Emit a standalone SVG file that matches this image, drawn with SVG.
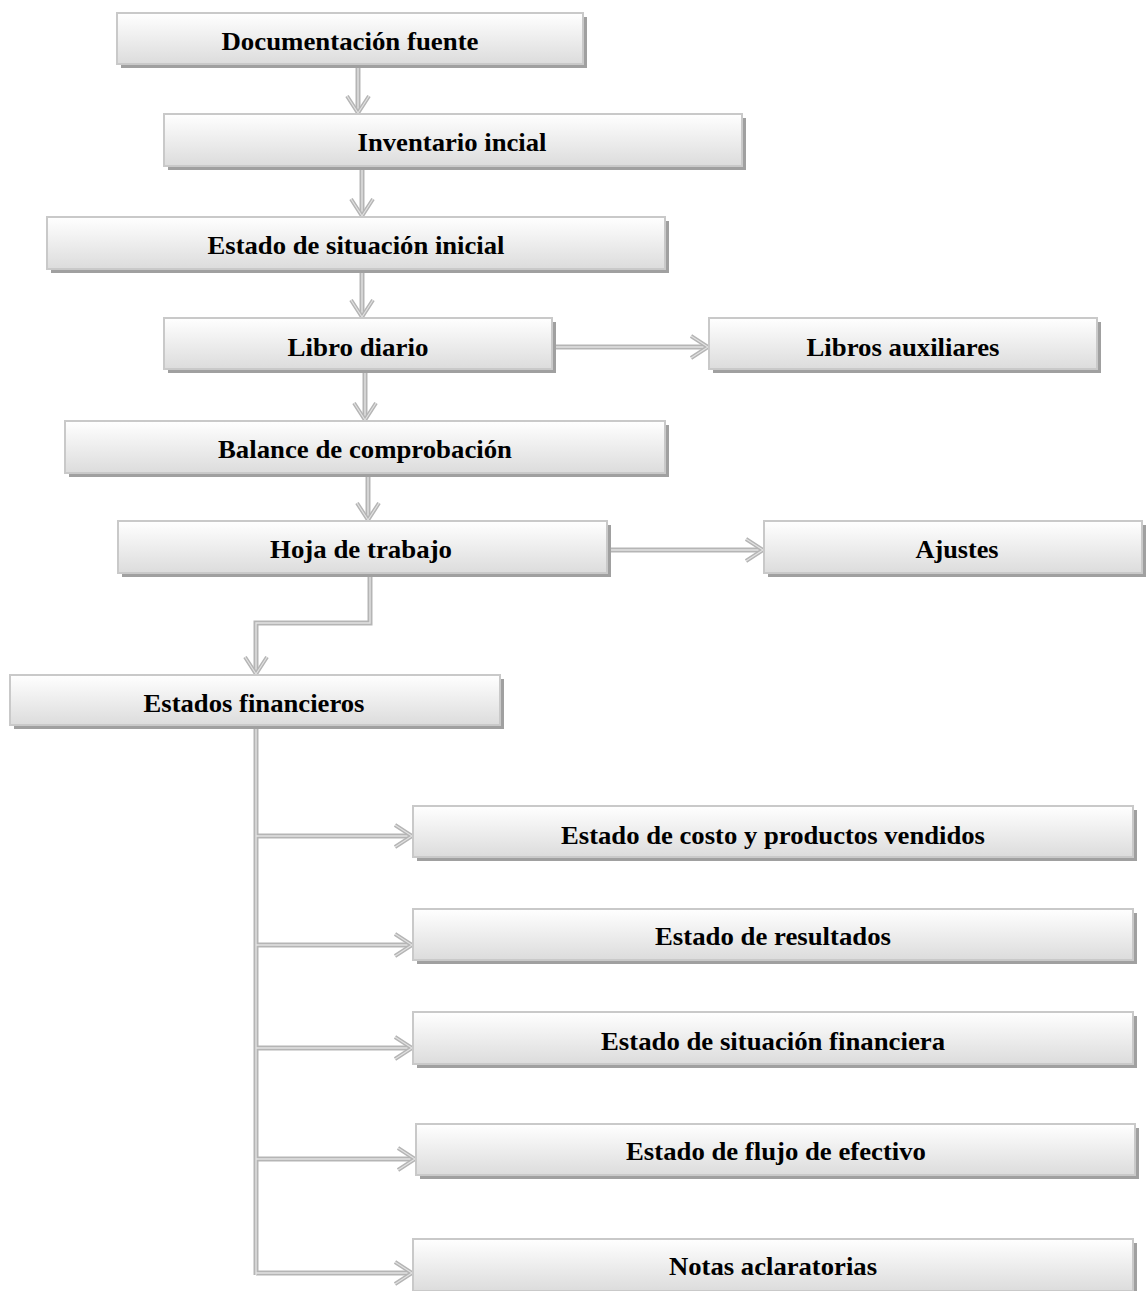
<svg xmlns="http://www.w3.org/2000/svg" width="1146" height="1291" viewBox="0 0 1146 1291">
<defs>
<linearGradient id="g" x1="0" y1="0" x2="0" y2="1">
<stop offset="0" stop-color="#ffffff"/>
<stop offset="1" stop-color="#dcdcdc"/>
</linearGradient>
</defs>
<style>
.sh{fill:#a0a0a0}
.bx{fill:url(#g);stroke:#c9c9c9;stroke-width:2}
.t{font-family:"Liberation Serif","Times New Roman",serif;font-weight:bold;font-size:25px;fill:#000;text-anchor:middle}
.lo{fill:none;stroke:#b5b5b5;stroke-width:5}
.li{fill:none;stroke:#e2e2e2;stroke-width:1.4}
.ah{fill:none;stroke:#b5b5b5;stroke-width:4;stroke-linejoin:miter}
.ai{fill:none;stroke:#e2e2e2;stroke-width:1.1;stroke-linejoin:miter}
</style>
<rect width="1146" height="1291" fill="#fff"/>
<g id="connectors">
<path class="lo" d="M358 64V112M362 166V215M362 269V316M365 369V419M368 473V519M370 573V623H256V673M256 725V1275M552 347H707M607 550H762M256 836H411M256 945H411M256 1048H411M256 1159H414M256 1273H411"/>
<path class="li" d="M358 64V112M362 166V215M362 269V316M365 369V419M368 473V519M370 573V623H256V673M256 725V1275M552 347H707M607 550H762M256 836H411M256 945H411M256 1048H411M256 1159H414M256 1273H411"/>
<path class="ah" d="M347 96L358 113L369 96M351 199L362 216L373 199M351 300L362 317L373 300M354 403L365 420L376 403M357 503L368 520L379 503M245 657L256 674L267 657M691 336L708 347L691 358M746 539L763 550L746 561M395 825L412 836L395 847M395 934L412 945L395 956M395 1037L412 1048L395 1059M398 1148L415 1159L398 1170M395 1262L412 1273L395 1284"/>
<path class="ai" d="M347 96L358 113L369 96M351 199L362 216L373 199M351 300L362 317L373 300M354 403L365 420L376 403M357 503L368 520L379 503M245 657L256 674L267 657M691 336L708 347L691 358M746 539L763 550L746 561M395 825L412 836L395 847M395 934L412 945L395 956M395 1037L412 1048L395 1059M398 1148L415 1159L398 1170M395 1262L412 1273L395 1284"/>
</g>
<g id="n1"><rect class="sh" x="121" y="17" width="466" height="51"/><rect class="bx" x="117" y="13" width="466" height="51"/><text class="t" x="350" y="50" textLength="257" lengthAdjust="spacingAndGlyphs">Documentación fuente</text></g>
<g id="n2"><rect class="sh" x="168" y="118" width="578" height="52"/><rect class="bx" x="164" y="114" width="578" height="52"/><text class="t" x="452" y="151" textLength="189" lengthAdjust="spacingAndGlyphs">Inventario incial</text></g>
<g id="n3"><rect class="sh" x="51" y="221" width="618" height="52"/><rect class="bx" x="47" y="217" width="618" height="52"/><text class="t" x="356" y="254" textLength="297" lengthAdjust="spacingAndGlyphs">Estado de situación inicial</text></g>
<g id="n4"><rect class="sh" x="168" y="322" width="388" height="51"/><rect class="bx" x="164" y="318" width="388" height="51"/><text class="t" x="358" y="356" textLength="141" lengthAdjust="spacingAndGlyphs">Libro diario</text></g>
<g id="n5"><rect class="sh" x="713" y="322" width="388" height="51"/><rect class="bx" x="709" y="318" width="388" height="51"/><text class="t" x="903" y="356" textLength="193" lengthAdjust="spacingAndGlyphs">Libros auxiliares</text></g>
<g id="n6"><rect class="sh" x="69" y="425" width="600" height="52"/><rect class="bx" x="65" y="421" width="600" height="52"/><text class="t" x="365" y="458" textLength="294" lengthAdjust="spacingAndGlyphs">Balance de comprobación</text></g>
<g id="n7"><rect class="sh" x="122" y="525" width="489" height="52"/><rect class="bx" x="118" y="521" width="489" height="52"/><text class="t" x="361" y="558" textLength="182" lengthAdjust="spacingAndGlyphs">Hoja de trabajo</text></g>
<g id="n8"><rect class="sh" x="768" y="525" width="378" height="52"/><rect class="bx" x="764" y="521" width="378" height="52"/><text class="t" x="957" y="558" textLength="83" lengthAdjust="spacingAndGlyphs">Ajustes</text></g>
<g id="n9"><rect class="sh" x="14" y="679" width="490" height="50"/><rect class="bx" x="10" y="675" width="490" height="50"/><text class="t" x="254" y="712" textLength="221" lengthAdjust="spacingAndGlyphs">Estados financieros</text></g>
<g id="n10"><rect class="sh" x="417" y="810" width="720" height="51"/><rect class="bx" x="413" y="806" width="720" height="51"/><text class="t" x="773" y="844" textLength="424" lengthAdjust="spacingAndGlyphs">Estado de costo y productos vendidos</text></g>
<g id="n11"><rect class="sh" x="417" y="913" width="720" height="51"/><rect class="bx" x="413" y="909" width="720" height="51"/><text class="t" x="773" y="945" textLength="236" lengthAdjust="spacingAndGlyphs">Estado de resultados</text></g>
<g id="n12"><rect class="sh" x="417" y="1016" width="720" height="52"/><rect class="bx" x="413" y="1012" width="720" height="52"/><text class="t" x="773" y="1050" textLength="344" lengthAdjust="spacingAndGlyphs">Estado de situación financiera</text></g>
<g id="n13"><rect class="sh" x="420" y="1128" width="719" height="51"/><rect class="bx" x="416" y="1124" width="719" height="51"/><text class="t" x="776" y="1160" textLength="300" lengthAdjust="spacingAndGlyphs">Estado de flujo de efectivo</text></g>
<g id="n14"><rect class="sh" x="417" y="1243" width="720" height="52"/><rect class="bx" x="413" y="1239" width="720" height="52"/><text class="t" x="773" y="1275" textLength="208" lengthAdjust="spacingAndGlyphs">Notas aclaratorias</text></g>
</svg>
